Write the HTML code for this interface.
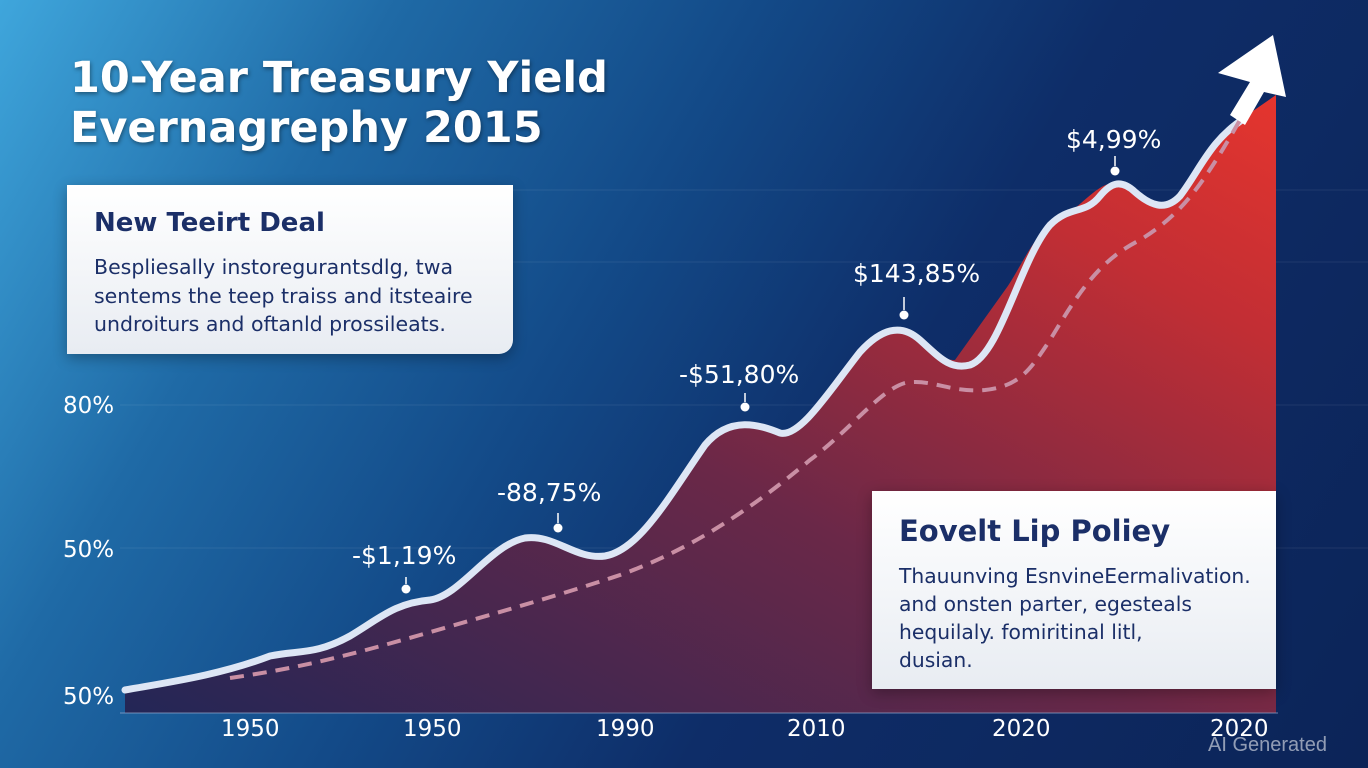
<!DOCTYPE html>
<html><head><meta charset="utf-8"><style>
html,body{margin:0;padding:0}
body{width:1368px;height:768px;overflow:hidden;position:relative;font-family:"DejaVu Sans","Liberation Sans",sans-serif;
background:linear-gradient(120deg,#3fa6dc 0%,#1f6aa6 22%,#134a88 42%,#0e2d68 62%,#0c2458 100%);}
.t{position:absolute;color:#fff;white-space:nowrap}
.box{position:absolute;background:linear-gradient(180deg,#ffffff,#e8ecf2);color:#1a2e63}
</style></head><body>
<svg width="1368" height="768" style="position:absolute;left:0;top:0">
<defs>
<linearGradient id="f" x1="0" y1="1" x2="1" y2="0">
<stop offset="0" stop-color="#232656"/>
<stop offset="0.45" stop-color="#6a2848"/>
<stop offset="0.8" stop-color="#c22e34"/>
<stop offset="1" stop-color="#e5352e"/>
</linearGradient>
</defs>
<g stroke="#ffffff" stroke-opacity="0.08" stroke-width="1">
<line x1="120" y1="405" x2="1368" y2="405"/>
<line x1="120" y1="548" x2="1368" y2="548"/>
<line x1="500" y1="190" x2="1368" y2="190"/>
<line x1="500" y1="262" x2="1368" y2="262"/>
</g>
<path fill="url(#f)" d="M125,690 C170,682 220,675 270,656 C300,650 315,655 350,636 C380,618 395,603 430,600 C460,596 490,545 525,538 C555,534 575,560 605,556 C640,550 670,495 705,445 C730,415 760,425 780,433 C800,438 830,390 860,352 C880,330 900,322 920,340 C935,355 945,360 955,360 L1005,290 C1020,270 1035,230 1060,218 C1085,205 1100,178 1120,184 C1140,192 1150,212 1170,205 C1190,195 1210,140 1240,120 L1276,95 L1276,713 L125,713 Z"/>
<path fill="none" stroke="#dde6f5" stroke-width="7" stroke-linecap="round" d="M125,690 C170,682 220,675 270,656 C300,650 315,655 350,636 C380,618 395,603 430,600 C460,596 490,545 525,538 C555,534 575,560 605,556 C640,550 670,495 705,445 C730,415 760,425 780,433 C800,438 830,390 860,352 C880,330 900,322 920,340 C940,358 950,370 970,365 C1000,355 1020,260 1050,225 C1070,205 1085,215 1100,196 C1110,184 1120,178 1135,192 C1150,205 1165,212 1180,196 C1200,170 1210,140 1245,118"/>
<polygon fill="#ffffff" points="1273,35 1286,97 1264,92 1245,125 1230,115 1250,82 1218,73"/>
<path fill="none" stroke="#c98fa4" stroke-width="4" stroke-dasharray="14,9" d="M230,678 C300,668 350,655 420,635 C500,612 560,595 620,575 C690,550 750,510 810,460 C850,430 880,390 905,383 C930,378 950,393 985,390 C1020,386 1030,370 1050,340 C1080,290 1100,260 1140,240 C1180,215 1200,190 1240,120"/>
<line x1="120" y1="713" x2="1278" y2="713" stroke="#8fa6cc" stroke-opacity="0.5" stroke-width="1.5"/>
<g fill="#fff">
<circle cx="406" cy="589" r="4.5"/><circle cx="558" cy="528" r="4.5"/><circle cx="745" cy="407" r="4.5"/><circle cx="904" cy="315" r="4.5"/><circle cx="1115" cy="171" r="4.5"/>
</g>
<g stroke="#fff" stroke-width="1.5">
<line x1="406" y1="577" x2="406" y2="584"/><line x1="558" y1="513" x2="558" y2="523"/><line x1="745" y1="393" x2="745" y2="402"/><line x1="904" y1="297" x2="904" y2="310"/><line x1="1115" y1="156" x2="1115" y2="166"/>
</g>
</svg>
<div class="t" style="left:70px;top:53px;font-size:43px;font-weight:bold;line-height:50px;text-shadow:1px 2px 4px rgba(0,0,0,.4)">10-Year Treasury Yield<br>Evernagrephy 2015</div>
<div class="box" style="left:67px;top:185px;width:446px;height:169px;border-radius:0 0 14px 0;box-shadow:0 4px 14px rgba(0,0,0,.3)">
<div style="position:absolute;left:27px;top:23px;font-size:26px;font-weight:bold;color:#1b2f68">New Teeirt Deal</div>
<div style="position:absolute;left:27px;top:68px;font-size:20.5px;line-height:28.5px;color:#1b2f68">Bespliesally instoregurantsdlg, twa<br>sentems the teep traiss and itsteaire<br>undroiturs and oftanld prossileats.</div>
</div>
<div class="box" style="left:872px;top:491px;width:404px;height:198px;box-shadow:0 4px 14px rgba(0,0,0,.3)">
<div style="position:absolute;left:27px;top:23px;font-size:29px;font-weight:bold;color:#1b2f68">Eovelt Lip Poliey</div>
<div style="position:absolute;left:27px;top:71px;font-size:20.3px;line-height:28px;color:#1b2f68">Thauunving EsnvineEermalivation.<br>and onsten parter, egesteals<br>hequilaly. fomiritinal litl,<br>dusian.</div>
</div>
<div class="t" style="left:352px;top:541px;font-size:25px">-$1,19%</div>
<div class="t" style="left:497px;top:478px;font-size:25px">-88,75%</div>
<div class="t" style="left:679px;top:360px;font-size:25px">-$51,80%</div>
<div class="t" style="left:853px;top:259px;font-size:25px">$143,85%</div>
<div class="t" style="left:1066px;top:125px;font-size:25px">$4,99%</div>
<div class="t" style="left:63px;top:393px;font-size:23px">80%</div>
<div class="t" style="left:63px;top:537px;font-size:23px">50%</div>
<div class="t" style="left:63px;top:684px;font-size:23px">50%</div>
<div class="t" style="left:221px;top:716px;font-size:23px">1950</div>
<div class="t" style="left:403px;top:716px;font-size:23px">1950</div>
<div class="t" style="left:596px;top:716px;font-size:23px">1990</div>
<div class="t" style="left:787px;top:716px;font-size:23px">2010</div>
<div class="t" style="left:992px;top:716px;font-size:23px">2020</div>
<div class="t" style="left:1210px;top:716px;font-size:23px">2020</div>
<div class="t" style="left:1208px;top:734px;font-size:20px;font-family:'Liberation Sans',sans-serif;color:rgba(255,255,255,.55)">AI Generated</div>
</body></html>
